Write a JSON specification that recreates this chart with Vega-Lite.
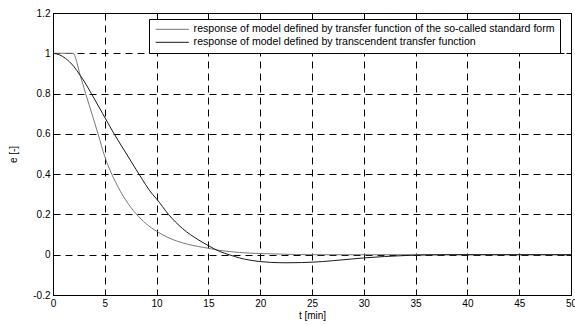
{
  "$schema": "https://vega.github.io/schema/vega-lite/v6.json",
  "width": 518,
  "height": 282,
  "autosize": {"type": "none"},
  "padding": {"left": 53, "top": 13, "right": 4, "bottom": 30},
  "background": "white",
  "config": {
    "view": {"stroke": "black", "strokeWidth": 1},
    "font": "Liberation Sans",
    "axis": {
      "labelFont": "Liberation Sans",
      "labelFontSize": 10,
      "labelColor": "black",
      "titleFont": "Liberation Sans",
      "titleFontSize": 10,
      "titleFontWeight": "normal",
      "titleColor": "black",
      "domainColor": "black",
      "tickColor": "black",
      "gridColor": "black",
      "gridDash": [7, 5],
      "gridOpacity": 1,
      "gridWidth": 1
    },
    "legend": {
      "orient": "none",
      "legendX": 96,
      "legendY": 6,
      "strokeColor": "black",
      "fillColor": "white",
      "padding": 5,
      "symbolType": "M-5,0H5",
      "symbolSize": 44,
      "symbolOffset": 13,
      "symbolStrokeWidth": 1,
      "labelFont": "Liberation Sans",
      "labelFontSize": 10.6,
      "labelColor": "black",
      "labelLimit": 600,
      "labelOffset": 16,
      "rowPadding": 2
    }
  },
  "data": {
    "values": [
      {"t": 0, "e": 1, "s": "standard"},
      {"t": 1.93, "e": 1, "s": "standard"},
      {"t": 2.63, "e": 0.89, "s": "standard"},
      {"t": 3.15, "e": 0.8, "s": "standard"},
      {"t": 4.35, "e": 0.6, "s": "standard"},
      {"t": 5.0, "e": 0.487, "s": "standard"},
      {"t": 5.5, "e": 0.42, "s": "standard"},
      {"t": 6.0, "e": 0.365, "s": "standard"},
      {"t": 6.5, "e": 0.315, "s": "standard"},
      {"t": 7.0, "e": 0.273, "s": "standard"},
      {"t": 7.5, "e": 0.236, "s": "standard"},
      {"t": 8.0, "e": 0.204, "s": "standard"},
      {"t": 9.0, "e": 0.153, "s": "standard"},
      {"t": 10.0, "e": 0.117, "s": "standard"},
      {"t": 11.0, "e": 0.088, "s": "standard"},
      {"t": 12.0, "e": 0.067, "s": "standard"},
      {"t": 13.0, "e": 0.052, "s": "standard"},
      {"t": 14.0, "e": 0.041, "s": "standard"},
      {"t": 15.0, "e": 0.032, "s": "standard"},
      {"t": 16.0, "e": 0.022, "s": "standard"},
      {"t": 17.0, "e": 0.016, "s": "standard"},
      {"t": 18.0, "e": 0.011, "s": "standard"},
      {"t": 20.0, "e": 0.006, "s": "standard"},
      {"t": 22.0, "e": 0.003, "s": "standard"},
      {"t": 25.0, "e": 0.0, "s": "standard"},
      {"t": 50.0, "e": 0.0, "s": "standard"},
      {"t": 0, "e": 1, "s": "transcendent"},
      {"t": 0.6, "e": 0.993, "s": "transcendent"},
      {"t": 1.2, "e": 0.975, "s": "transcendent"},
      {"t": 2.0, "e": 0.935, "s": "transcendent"},
      {"t": 2.63, "e": 0.89, "s": "transcendent"},
      {"t": 3.2, "e": 0.845, "s": "transcendent"},
      {"t": 3.7, "e": 0.8, "s": "transcendent"},
      {"t": 4.8, "e": 0.7, "s": "transcendent"},
      {"t": 5.9, "e": 0.6, "s": "transcendent"},
      {"t": 7.1, "e": 0.5, "s": "transcendent"},
      {"t": 8.3, "e": 0.4, "s": "transcendent"},
      {"t": 9.6, "e": 0.3, "s": "transcendent"},
      {"t": 10.0, "e": 0.277, "s": "transcendent"},
      {"t": 11.15, "e": 0.2, "s": "transcendent"},
      {"t": 12.5, "e": 0.13, "s": "transcendent"},
      {"t": 14.0, "e": 0.075, "s": "transcendent"},
      {"t": 15.0, "e": 0.045, "s": "transcendent"},
      {"t": 16.1, "e": 0.016, "s": "transcendent"},
      {"t": 17.0, "e": 0.0, "s": "transcendent"},
      {"t": 18.0, "e": -0.016, "s": "transcendent"},
      {"t": 19.0, "e": -0.027, "s": "transcendent"},
      {"t": 20.0, "e": -0.034, "s": "transcendent"},
      {"t": 21.0, "e": -0.038, "s": "transcendent"},
      {"t": 22.5, "e": -0.04, "s": "transcendent"},
      {"t": 24.0, "e": -0.039, "s": "transcendent"},
      {"t": 26.0, "e": -0.034, "s": "transcendent"},
      {"t": 28.0, "e": -0.025, "s": "transcendent"},
      {"t": 30.0, "e": -0.016, "s": "transcendent"},
      {"t": 32.0, "e": -0.009, "s": "transcendent"},
      {"t": 34.0, "e": -0.004, "s": "transcendent"},
      {"t": 36.0, "e": -0.001, "s": "transcendent"},
      {"t": 38.0, "e": 0.0, "s": "transcendent"},
      {"t": 50.0, "e": 0.0, "s": "transcendent"}
    ]
  },
  "resolve": {"axis": {"x": "independent", "y": "independent"}},
  "layer": [
    {
      "mark": {"type": "line", "strokeWidth": 1, "interpolate": "monotone"},
      "encoding": {
        "x": {
          "field": "t", "type": "quantitative",
          "scale": {"domain": [0, 50], "nice": false, "zero": false},
          "axis": {"title": "t [min]", "values": [0,5,10,15,20,25,30,35,40,45,50], "tickSize": -5, "labelPadding": 8, "labelFlush": false, "labelOverlap": false, "titlePadding": 2}
        },
        "y": {
          "field": "e", "type": "quantitative",
          "scale": {"domain": [-0.2, 1.2], "nice": false, "zero": false},
          "axis": {"title": "e [-]", "values": [-0.2,0,0.2,0.4,0.6,0.8,1,1.2], "labelExpr": "replace(format(datum.value, '~g'), '−', '-')", "tickSize": -5, "labelPadding": 8, "labelFlush": false, "labelOverlap": false, "titlePadding": 14}
        },
        "color": {
          "field": "s", "type": "nominal",
          "scale": {"domain": ["standard", "transcendent"], "range": ["#787878", "#1a1a1a"]},
          "legend": {
            "title": null,
            "labelExpr": "datum.value == 'standard' ? 'response of model defined by transfer function of the so-called standard form' : 'response of model defined by transcendent transfer function'"
          }
        }
      }
    },
    {
      "mark": {"type": "line", "strokeOpacity": 0},
      "encoding": {
        "x": {
          "field": "t", "type": "quantitative",
          "axis": {"orient": "top", "title": null, "labels": false, "grid": false, "values": [0,5,10,15,20,25,30,35,40,45,50], "tickSize": -5}
        },
        "y": {
          "field": "e", "type": "quantitative",
          "axis": {"orient": "right", "title": null, "labels": false, "grid": false, "values": [-0.2,0,0.2,0.4,0.6,0.8,1,1.2], "tickSize": -5}
        },
        "detail": {"field": "s"}
      }
    }
  ]
}
